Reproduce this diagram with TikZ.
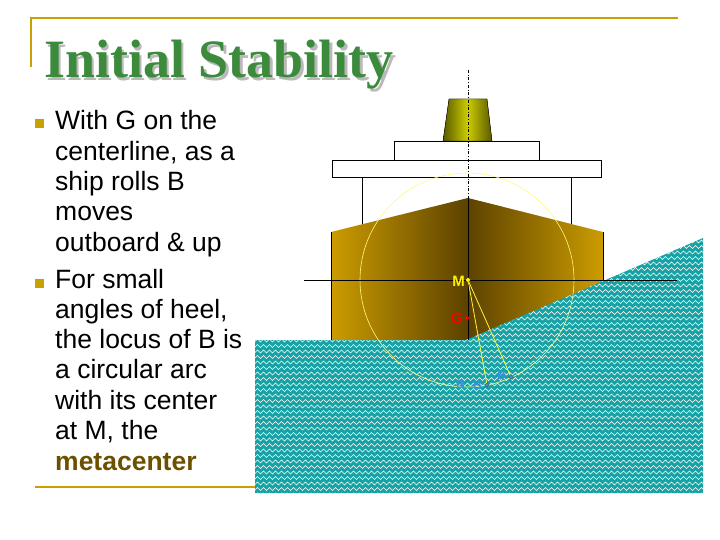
\documentclass[tikz,border=0pt]{standalone}
\usepackage{fontspec}
\setmainfont{Liberation Sans}
\newfontfamily\titlefont{Liberation Serif}
\usetikzlibrary{decorations.pathmorphing,shapes.geometric}
\definecolor{gold}{HTML}{C8A000}
\definecolor{tgreen}{HTML}{3C8A3C}
\definecolor{teal2}{HTML}{17A3A6}
\definecolor{hullgold}{HTML}{CC9C00}
\definecolor{hulldark}{HTML}{5C4200}
\definecolor{bblue}{HTML}{3A8FE0}
\tikzset{body/.style={anchor=base west,font=\fontsize{26.5}{26.5}\selectfont,inner sep=0pt},
 bsq/.style={fill=gold,minimum size=9pt,inner sep=0pt},
 lbl/.style={font=\bfseries\fontsize{15}{15}\selectfont,inner sep=0pt},
 pt/.style={diamond,fill,inner sep=0pt,minimum size=5pt}}
\begin{document}
\begin{tikzpicture}[x=1pt,y=-1pt]
\useasboundingbox (0,0) rectangle (720,540);
% frame lines
\draw[gold,line width=2.5pt] (30,18) -- (678,18);
\draw[gold,line width=2.5pt] (31,18) -- (31,67);
\draw[gold,line width=2pt] (35,487) -- (255,487);
% title
\node[anchor=base west,inner sep=0pt,text=gray!55,font=\titlefont\bfseries\fontsize{54}{54}\selectfont] at (46.5,80.5) {Initial Stability};
\node[anchor=base west,inner sep=0pt,text=tgreen,font=\titlefont\bfseries\fontsize{54}{54}\selectfont] (title) at (44,78) {Initial Stability};
% bullets
\node[bsq] (b1) at (39,124) {};
\node[bsq] (b2) at (39,283) {};
\foreach \t [count=\i] in {With G on the,centerline{,} as a,ship rolls B,moves,outboard \& up}
  \node[body] (l\i) at (55,130+30.3*\i-30.3) {\t};
\foreach \t [count=\i] in {For small,angles of heel{,},the locus of B is,a circular arc,with its center,at M{,} the}
  \node[body] (m\i) at (55,288+30.3*\i-30.3) {\t};
\node[body,text=hulldark!85!gold,font=\bfseries\fontsize{26.5}{26.5}\selectfont] (m7) at (55,470) {metacenter};
% superstructure
\fill[left color=olive!70!black,right color=olive!70!black,middle color=olive!40!yellow] (449,99) -- (487,99) -- (492,141) -- (443,141) -- cycle;
\draw (449,99) -- (487,99) -- (492,141) -- (443,141) -- cycle;
\draw[fill=white] (394,141) rectangle (539,160);
\draw[fill=white] (332,160) rectangle (601,177);
\draw (362,177) -- (362,226);
\draw (571,177) -- (571,226);
% hull
\shade[left color=hullgold,right color=hullgold,middle color=hulldark] (331,232) -- (468,198) -- (603,232) -- (603,340) -- (331,340) -- cycle;
\draw (331,232) -- (331,340);
\draw (603,232) -- (603,282);
% water
\begin{scope}
\clip (255,340) -- (466,340) -- (703,238) -- (703,493) -- (255,493) -- cycle;
\fill[teal2] (250,230) rectangle (710,500);
\foreach \y in {236,241.5,...,496}
  \draw[white,line width=0.6pt,decorate,decoration={zigzag,segment length=6pt,amplitude=1.4pt}] (250,\y) -- (710,\y);
\end{scope}
% circle and lines
\draw[yellow!50!white,line width=0.6pt] (467,280) circle (107);
\coordinate (top) at (468,70);
\coordinate (hulltop) at (468,198);
\coordinate (keel) at (468,340);
\draw[dash dot] (top) -- (hulltop);
\draw (hulltop) -- (keel);
\coordinate (hl) at (304,280);
\coordinate (hr) at (677,280);
\draw (hl) -- (hr);
\node[pt,fill=yellow] (M) at (468,280) {};
\node[pt,fill=red] (G) at (467,318) {};
\node[pt,fill=bblue,draw=black!70,line width=0.3pt] (B1) at (487,385) {};
\node[pt,fill=bblue,draw=black!70,line width=0.3pt] (B2) at (511,377) {};
\draw[yellow!80!white,line width=0.8pt] (M) -- (B1);
\draw[yellow!80!white,line width=0.8pt] (M) -- (B2);
\node[lbl,text=yellow,anchor=east] at (465,281) {M};
\node[lbl,text=red,anchor=east] at (463,318) {G};
\node[lbl,text=bblue,anchor=east,font=\bfseries\fontsize{12}{12}\selectfont] at (465,384) {B};
\node[lbl,text=bblue,anchor=east,font=\bfseries\fontsize{12}{12}\selectfont] at (482,385) {B};
\node[lbl,text=bblue,anchor=east,font=\bfseries\fontsize{12}{12}\selectfont] at (506,375) {B};
\end{tikzpicture}
\end{document}
